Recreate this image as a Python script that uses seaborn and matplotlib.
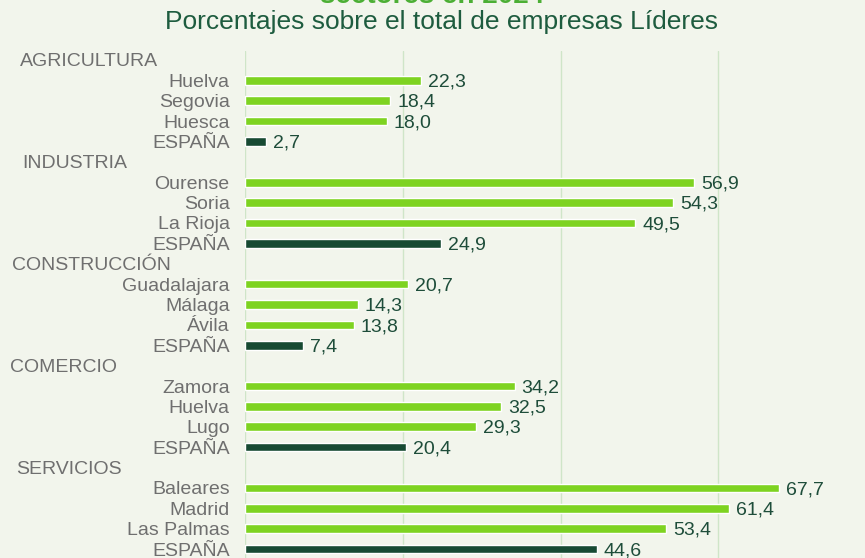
import pandas as pd
import seaborn as sns
import matplotlib.pyplot as plt
import matplotlib.transforms as mtransforms

# Datos
sectores = ["AGRICULTURA", "INDUSTRIA", "CONSTRUCCIÓN", "COMERCIO", "SERVICIOS"]
provincias = [
    ["Huelva", "Segovia", "Huesca", "ESPAÑA"],
    ["Ourense", "Soria", "La Rioja", "ESPAÑA"],
    ["Guadalajara", "Málaga", "Ávila", "ESPAÑA"],
    ["Zamora", "Huelva", "Lugo", "ESPAÑA"],
    ["Baleares", "Madrid", "Las Palmas", "ESPAÑA"],
]
valores = [
    [22.3, 18.4, 18.0, 2.7],
    [56.9, 54.3, 49.5, 24.9],
    [20.7, 14.3, 13.8, 7.4],
    [34.2, 32.5, 29.3, 20.4],
    [67.7, 61.4, 53.4, 44.6],
]
titulo = "sectores en 2024"
subtitulo = "Porcentajes sobre el total de empresas Líderes"

# Colores
fondo = "#f2f5ec"
verde_claro = "#7ed321"
verde_oscuro = "#174a33"
gris = "#6f6f6f"
rejilla = "#cfe5c8"

# Construir tabla: una fila de cabecera por sector + sus provincias
filas = []
orden = []
etiquetas = []
for i, sector in enumerate(sectores):
    orden.append(f"h{i}")
    etiquetas.append("")
    for j, prov in enumerate(provincias[i]):
        clave = f"r{i}_{j}"
        orden.append(clave)
        etiquetas.append(prov)
        tipo = "espana" if prov == "ESPAÑA" else "provincia"
        filas.append({"clave": clave, "valor": valores[i][j], "tipo": tipo})
df = pd.DataFrame(filas)

sns.set_style("white")
plt.rcParams['font.family'] = ['Liberation Sans', 'DejaVu Sans']

fig = plt.figure(figsize=(8.65, 5.58), dpi=100, facecolor=fondo)
ax = fig.add_axes([245 / 865, 0, (865 - 245) / 865, (558 - 51) / 558])
ax.set_facecolor(fondo)

sns.barplot(data=df, x="valor", y="clave", hue="tipo", order=orden,
            palette={"provincia": verde_claro, "espana": verde_oscuro},
            dodge=False, width=0.42, orient="h", legend=False, ax=ax,
            errorbar=None, saturation=1)

ax.set_xlim(0, 78.6)
ax.set_ylim(24.44, -0.44)
ax.set_xticks([0, 20, 40, 60])
ax.set_xticklabels([])
ax.tick_params(axis="x", length=0)
ax.grid(axis="x", color=rejilla, linewidth=1)
ax.set_axisbelow(True)
for s in ax.spines.values():
    s.set_visible(False)

ax.set_yticks(range(len(orden)))
ax.set_yticklabels(etiquetas, fontsize=14, color=gris)
ax.tick_params(axis="y", length=0, pad=11)
ax.set_xlabel("")
ax.set_ylabel("")

# Etiquetas de valor (un poco por debajo del centro de la barra)
for cont in ax.containers:
    textos = ax.bar_label(cont, labels=[f"{b.get_width():.1f}".replace(".", ",") for b in cont],
                          padding=5, fontsize=14, color="#1e4d3a")
    for t in textos:
        t.xyann = (5, -1.2)

# Cabeceras de sector
cab_x = [20, 22, 12, 10, 16]
bajar = mtransforms.ScaledTranslation(0, -2 / 100, fig.dpi_scale_trans)
trans = mtransforms.blended_transform_factory(fig.transFigure, ax.transData) + bajar
for i, sector in enumerate(sectores):
    ax.text(cab_x[i] / 865, orden.index(f"h{i}"), sector, transform=trans,
            ha="left", va="center", fontsize=14, color=gris)

fig.text(0.5, 1 - 3 / 558, titulo, ha="center", va="baseline",
         fontsize=20, fontweight="bold", color="#4caf35")
fig.text(442 / 865, 1 - 22 / 558, subtitulo, ha="center", va="center",
         fontsize=19, color="#1e5c3f", family=["Liberation Sans Narrow", "Liberation Sans"])

fig.savefig("out.png", dpi=100, facecolor=fondo)
